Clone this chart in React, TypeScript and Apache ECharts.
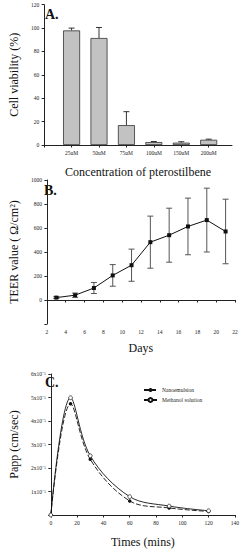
import React, { useEffect, useRef } from "react";
import * as echarts from "echarts";

// Panel A
const concLabels = ["25uM", "50uM", "75uM", "100uM", "150uM", "200uM"];
const viability = [98, 91.5, 17, 2.5, 2, 4.5];
const viabilityErr = [2, 9, 11.5, 0.5, 0.8, 0.5];

// Panel B
const days = [3, 5, 7, 9, 11, 13, 15, 17, 19, 21];
const teer = [20, 40, 100, 205, 290, 482, 540, 613, 666, 571];
const teerErr = [8, 18, 46, 90, 134, 217, 225, 236, 266, 269];

// Panel C
const times = [0, 15, 30, 60, 90, 120];
const nanoPapp = [0, 4.73, 2.37, 0.6, 0.3, 0.15]; // x10^-5 cm/sec
const methPapp = [0, 4.99, 2.52, 0.78, 0.38, 0.18]; // x10^-5 cm/sec

const FONT = "Liberation Serif";

export default function App() {
  const ref = useRef<HTMLDivElement>(null);
  useEffect(() => {
    if (!ref.current) return;
    const chart = echarts.init(ref.current, null, { renderer: "svg" });
    const tickLabel = { fontFamily: FONT, fontSize: 5.5, color: "#222", margin: 5 };
    const axisLine = { show: true, lineStyle: { color: "#222", width: 1 } };
    const axisTick = { show: true, length: 2.5, lineStyle: { color: "#222" } };
    const nameStyle = { fontFamily: FONT, fontSize: 12, color: "#111" };

    const errA = concLabels.map((_, i) => [i + 1, viability[i], viability[i] + viabilityErr[i]]);
    const errB = days.map((d, i) => [d, teer[i] - teerErr[i], teer[i] + teerErr[i]]);

    const errRender = (color: string, both: boolean) => (params: any, api: any) => {
      const x = api.value(0);
      const lo = api.value(1);
      const hi = api.value(2);
      const pLo = api.coord([x, lo]);
      const pHi = api.coord([x, hi]);
      const cap = 3;
      const children: any[] = [
        { type: "line", shape: { x1: pLo[0], y1: pLo[1], x2: pHi[0], y2: pHi[1] }, style: { stroke: color, lineWidth: 1 } },
        { type: "line", shape: { x1: pHi[0] - cap, y1: pHi[1], x2: pHi[0] + cap, y2: pHi[1] }, style: { stroke: color, lineWidth: 1 } },
      ];
      if (both) {
        children.push({ type: "line", shape: { x1: pLo[0] - cap, y1: pLo[1], x2: pLo[0] + cap, y2: pLo[1] }, style: { stroke: color, lineWidth: 1 } });
      }
      return { type: "group", children };
    };

    chart.setOption({
      animation: false,
      backgroundColor: "#fff",
      textStyle: { fontFamily: FONT },
      grid: [
        { left: 40, top: 4.7, width: 192, height: 140.3 },
        { left: 39, top: 180, width: 196, height: 144 },
        { left: 39.3, top: 374, width: 195.7, height: 141 },
      ],
      graphic: [
        { type: "text", left: 45, top: 7, style: { text: "A.", font: `bold 14px ${FONT}`, fill: "#111" } },
        { type: "text", left: 44, top: 183, style: { text: "B.", font: `bold 14px ${FONT}`, fill: "#111" } },
        { type: "text", left: 45, top: 375, style: { text: "C.", font: `bold 14px ${FONT}`, fill: "#111" } },
      ],
      legend: {
        left: 138,
        top: 382,
        orient: "vertical",
        itemGap: 4,
        itemWidth: 13,
        itemHeight: 5,
        textStyle: { fontFamily: FONT, fontSize: 5.5, color: "#222" },
        data: ["Nanoemulsion", "Methanol solution"],
      },
      xAxis: [
        {
          gridIndex: 0, type: "value", min: 0, max: 6.85, interval: 1,
          axisLine, axisTick: { ...axisTick, alignWithLabel: true }, splitLine: { show: false },
          axisLabel: { ...tickLabel, showMaxLabel: false, formatter: (v: number) => (Number.isInteger(v) && v >= 1 ? concLabels[v - 1] : "") },
          name: "Concentration of pterostilbene", nameLocation: "middle", nameGap: 21, nameTextStyle: nameStyle,
        },
        {
          gridIndex: 1, type: "value", min: 2, max: 22, interval: 2,
          axisLine, axisTick, splitLine: { show: false }, axisLabel: tickLabel,
          name: "Days", nameLocation: "middle", nameGap: 18, nameTextStyle: nameStyle,
        },
        {
          gridIndex: 2, type: "value", min: 0, max: 140, interval: 20,
          axisLine, axisTick, splitLine: { show: false }, axisLabel: tickLabel,
          name: "Times (mins)", nameLocation: "middle", nameGap: 21, nameTextStyle: nameStyle,
        },
      ],
      yAxis: [
        {
          gridIndex: 0, type: "value", min: 0, max: 120, interval: 20,
          axisLine, axisTick, splitLine: { show: false }, axisLabel: tickLabel,
          name: "Cell viability (%)", nameLocation: "middle", nameGap: 19, nameTextStyle: nameStyle,
        },
        {
          gridIndex: 1, type: "value", min: -200, max: 1000, interval: 200,
          axisLine, axisTick, splitLine: { show: false },
          axisLabel: { ...tickLabel, formatter: (v: number) => (v < 0 ? "" : String(v)) },
          name: "TEER value ( \u03A9/cm\u00B2)", nameLocation: "middle", nameGap: 20, nameTextStyle: nameStyle,
        },
        {
          gridIndex: 2, type: "value", min: 0, max: 6, interval: 1,
          axisLine, axisTick, splitLine: { show: false },
          axisLabel: { ...tickLabel, formatter: (v: number) => (v === 0 ? "" : `${v}x10\u207B\u2075`) },
          name: "Papp (cm/sec)", nameLocation: "middle", nameGap: 25, nameTextStyle: nameStyle,
        },
      ],
      series: [
        {
          type: "bar", xAxisIndex: 0, yAxisIndex: 0, barWidth: 17,
          data: viability.map((v, i) => [i + 1, v]),
          itemStyle: { color: "#c2c2c2", borderColor: "#333", borderWidth: 0.8 },
        },
        {
          type: "custom", xAxisIndex: 0, yAxisIndex: 0, data: errA,
          renderItem: errRender("#333", false), z: 3,
        },
        {
          type: "custom", xAxisIndex: 1, yAxisIndex: 1, data: errB,
          renderItem: errRender("#555", true), z: 2,
        },
        {
          type: "line", xAxisIndex: 1, yAxisIndex: 1, z: 4,
          data: days.map((d, i) => [d, teer[i]]),
          symbol: "rect", symbolSize: 4,
          lineStyle: { color: "#111", width: 1 }, itemStyle: { color: "#111" },
        },
        {
          name: "Nanoemulsion", type: "line", xAxisIndex: 2, yAxisIndex: 2,
          data: times.map((t, i) => [t, nanoPapp[i]]),
          smooth: 0.35,
          symbol: "circle", symbolSize: 3.5,
          lineStyle: { color: "#111", width: 0.9, type: [5, 2] }, itemStyle: { color: "#111" },
        },
        {
          name: "Methanol solution", type: "line", xAxisIndex: 2, yAxisIndex: 2,
          data: times.map((t, i) => [t, methPapp[i]]),
          smooth: 0.35,
          symbol: "circle", symbolSize: 3.8,
          lineStyle: { color: "#111", width: 0.9 }, itemStyle: { color: "#fff", borderColor: "#111", borderWidth: 0.7 },
        },
      ],
    });
    return () => chart.dispose();
  }, []);
  return <div ref={ref} style={{ position: "fixed", left: 0, top: 0, width: 242, height: 550 }} />;
}
